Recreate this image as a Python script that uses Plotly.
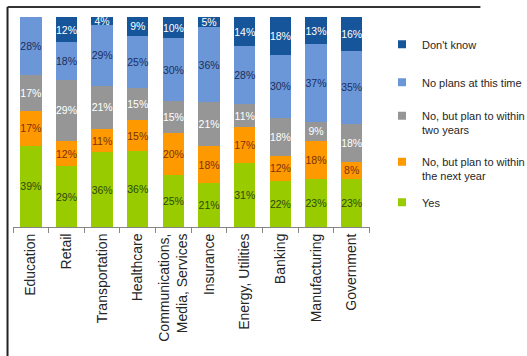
import plotly.graph_objects as go

categories = ["Education", "Retail", "Transportation", "Healthcare",
              "Communications,<br>Media, Services", "Insurance",
              "Energy, Utilities", "Banking", "Manufacturing", "Government"]

yes = [39, 29, 36, 36, 25, 21, 31, 22, 23, 23]
next_year = [17, 12, 11, 15, 20, 18, 17, 12, 18, 8]
two_years = [17, 29, 21, 15, 15, 21, 11, 18, 9, 18]
no_plans = [28, 18, 29, 25, 30, 36, 28, 30, 37, 35]
dont_know = [0, 12, 4, 9, 10, 5, 14, 18, 13, 16]

series_names = ["Yes", "No, but plan to within<br>the next year",
                "No, but plan to within<br>two years", "No plans at this time",
                "Don't know"]
series_values = [yes, next_year, two_years, no_plans, dont_know]
colors = ["#99CC00", "#FF9900", "#969696", "#6B97D8", "#17559A"]
label_colors = ["#2D4A08", "#7A3208", "#FFFFFF", "#1B2E5C", "#FFFFFF"]

FONT = "Liberation Sans, Arial, sans-serif"

W, H = 527, 356
# legend first-line rows (pixels from top) for each series, in series order
legend_rows = [203, 162, 116, 83, 45]
legend_lines = [1, 2, 2, 1, 1]
legend_ids = ["legend5", "legend4", "legend3", "legend2", "legend"]
LEG_SIZE = 11
LINE = 1.3 * LEG_SIZE

fig = go.Figure()
for name, vals, col, lcol, lid in zip(series_names, series_values, colors,
                                      label_colors, legend_ids):
    fig.add_trace(go.Bar(
        x=categories, y=vals, name=name, marker_color=col,
        marker_line_width=0,
        text=[f"{v}%" if v > 0 else "" for v in vals],
        textposition="inside", insidetextanchor="middle", textangle=0,
        textfont=dict(family=FONT, size=10.5, color=lcol),
        showlegend=False,
    ))
    fig.add_trace(go.Scatter(
        x=[None], y=[None], mode="markers", name=name,
        marker=dict(symbol="square", size=8, color=col),
        legend=lid, showlegend=True,
    ))

layout_legends = {}
for lid, row, nl in zip(legend_ids, legend_rows, legend_lines):
    centre = row + (nl - 1) * LINE / 2
    layout_legends[lid] = dict(
        xref="container", yref="container",
        x=382 / W, y=1 - centre / H, xanchor="left", yanchor="middle",
        font=dict(family=FONT, size=LEG_SIZE, color="#262626"),
        bgcolor="rgba(0,0,0,0)", borderwidth=0, valign="top",
        itemwidth=30,
    )

L, R, T, B = 13, 123.5, 17, 129
fig.update_layout(
    width=W, height=H,
    margin=dict(l=L, r=R, t=T, b=B, pad=0),
    barmode="stack", barnorm="percent", bargap=0.4,
    paper_bgcolor="white", plot_bgcolor="white",
    uniformtext=dict(minsize=10.5, mode="show"),
    xaxis=dict(
        showline=True, linecolor="#868686", linewidth=1,
        ticks="outside", tickson="boundaries", ticklen=5, tickcolor="#868686",
        tickangle=-90, tickfont=dict(family=FONT, size=14, color="#262626"),
        showgrid=False, fixedrange=True,
    ),
    yaxis=dict(visible=False, range=[0, 100], fixedrange=True),
    **layout_legends,
)

# outer frame (left and top edges)
pw = W - L - R
ph = H - T - B
def px_to_paper_x(px):
    return (px - L) / pw
def px_to_paper_y(py):
    return (H - B - py) / ph
fig.add_shape(type="line", xref="paper", yref="paper",
              x0=px_to_paper_x(7), x1=px_to_paper_x(7),
              y0=px_to_paper_y(7), y1=px_to_paper_y(H + 2),
              line=dict(color="#222222", width=2))
fig.add_shape(type="line", xref="paper", yref="paper",
              x0=px_to_paper_x(7), x1=px_to_paper_x(525),
              y0=px_to_paper_y(7), y1=px_to_paper_y(7),
              line=dict(color="#333333", width=2))

fig.write_html("out.html")
